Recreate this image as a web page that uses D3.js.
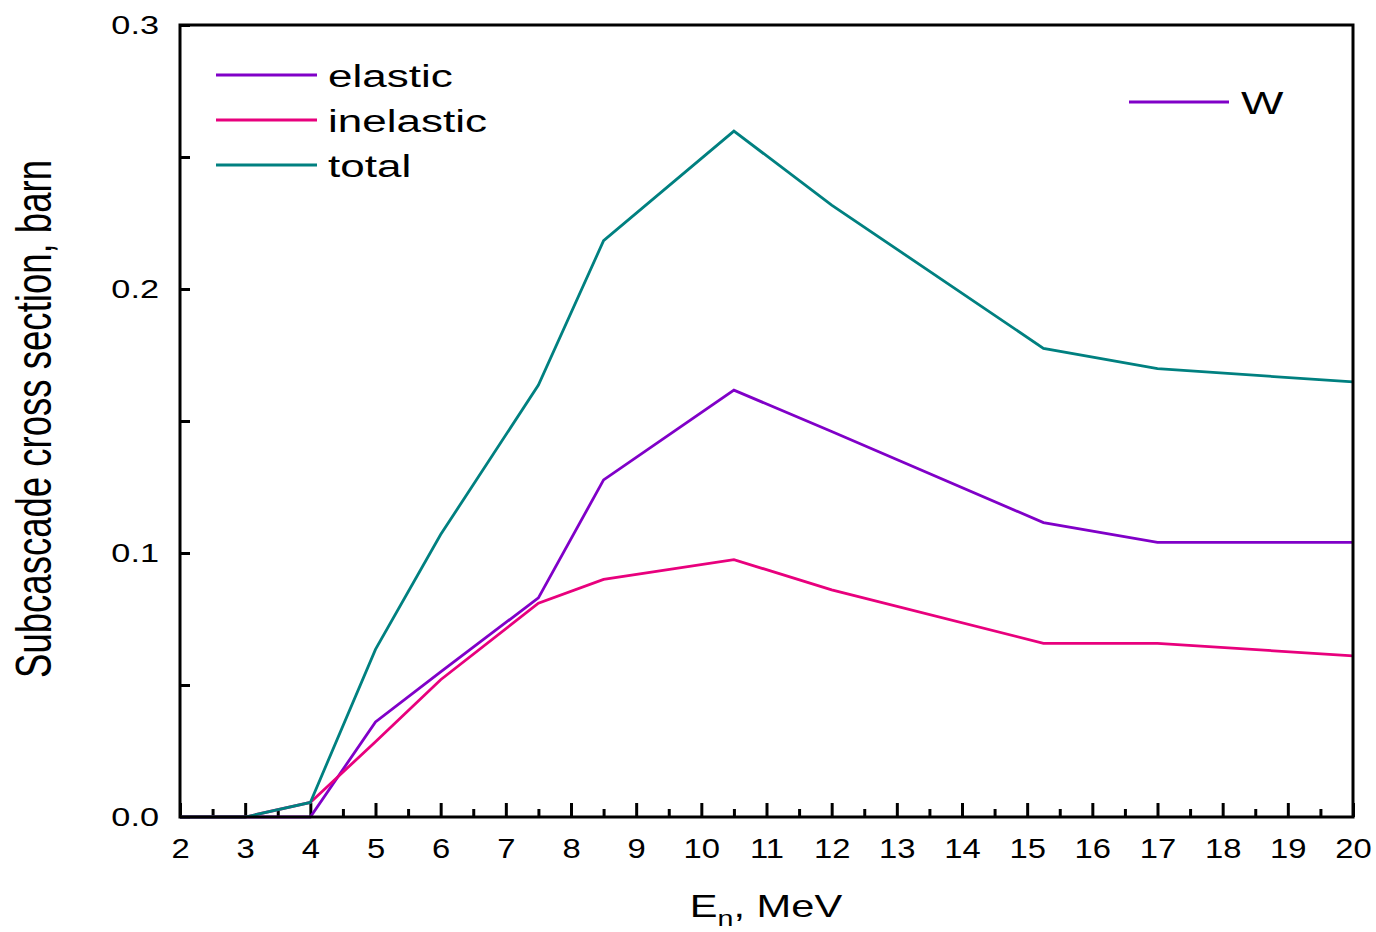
<!DOCTYPE html>
<html>
<head>
<meta charset="utf-8">
<script src="https://cdn.jsdelivr.net/npm/d3@7"></script>
<style>
  html, body { margin: 0; padding: 0; background: #fff; }
  svg { display: block; }
  text { font-family: "Liberation Sans", Arial, sans-serif; fill: #000; }
</style>
</head>
<body>
<svg id="chart" width="1376" height="932"></svg>
<script>
// Neutron energy grid, MeV
const energy = [2, 3, 4, 5, 6, 7.5, 8.5, 10.5, 12, 15.25, 17, 20];
// Subcascade cross sections for W, barn
const elastic   = [0, 0, 0,      0.036,  0.055, 0.083, 0.1277, 0.1617, 0.146, 0.1115, 0.104, 0.104];
const inelastic = [0, 0, 0.0055, 0.0285, 0.052, 0.081, 0.090,  0.0975, 0.086, 0.0658, 0.0658, 0.061];
const total     = [0, 0, 0.0055, 0.0635, 0.107, 0.1636, 0.2183, 0.2598, 0.2318, 0.1775, 0.1698, 0.1648];

const seriesNames  = ["elastic", "inelastic", "total"];
const seriesColors = ["#8000c8", "#e8007d", "#008080"];
const seriesValues = [elastic, inelastic, total];

const xTicks = [2, 3, 4, 5, 6, 7, 8, 9, 10, 11, 12, 13, 14, 15, 16, 17, 18, 19, 20];
const yTicks = [0, 0.1, 0.2, 0.3];

const svg = d3.select("#chart");
const plotLeft = 180, plotRight = 1353, plotTop = 25, plotBottom = 817;

const x = d3.scaleLinear().domain([2, 20]).range([plotLeft, plotRight]);
const y = d3.scaleLinear().domain([0, 0.3]).range([plotBottom, plotTop]);

// Minor ticks (half steps) on x, inward
const xMinor = d3.range(2.5, 20, 1);
svg.append("g")
  .attr("transform", `translate(0,${plotBottom})`)
  .call(d3.axisBottom(x).tickValues(xMinor).tickSize(-8).tickFormat(""))
  .call(g => g.select(".domain").remove())
  .call(g => g.selectAll("line").attr("stroke-width", 3));

// Major x ticks with labels
svg.append("g")
  .attr("transform", `translate(0,${plotBottom})`)
  .call(d3.axisBottom(x).tickValues(xTicks).tickSize(-14).tickFormat(d3.format("d")))
  .call(g => g.select(".domain").remove())
  .call(g => g.selectAll("line").attr("stroke-width", 3))
  .call(g => g.selectAll("text")
    .attr("y", 0).attr("dy", 0)
    .attr("transform", "translate(0,41) scale(1.17,1)")
    .attr("font-size", 28)
    .attr("fill", "#000")
    .attr("text-anchor", "middle"));

// Y ticks (major + minor), inward
const yMinor = [0.05, 0.15, 0.25];
svg.append("g")
  .attr("transform", `translate(${plotLeft},0)`)
  .call(d3.axisLeft(y).tickValues(yMinor).tickSize(-10).tickFormat(""))
  .call(g => g.select(".domain").remove())
  .call(g => g.selectAll("line").attr("stroke-width", 3));

svg.append("g")
  .attr("transform", `translate(${plotLeft},0)`)
  .call(d3.axisLeft(y).tickValues(yTicks).tickSize(-10).tickFormat(d3.format(".1f")))
  .call(g => g.select(".domain").remove())
  .call(g => g.selectAll("line").attr("stroke-width", 3))
  .call(g => g.selectAll("text")
    .attr("x", 0).attr("dy", 0).attr("y", 0)
    .attr("transform", "translate(-21,8) scale(1.32,1)")
    .attr("font-size", 26)
    .attr("fill", "#000")
    .attr("text-anchor", "end"));

// Data lines
const line = d3.line()
  .x((d, i) => x(energy[i]))
  .y(d => y(d));

seriesValues.forEach((vals, k) => {
  svg.append("path")
    .datum(vals)
    .attr("d", line)
    .attr("fill", "none")
    .attr("stroke", seriesColors[k])
    .attr("stroke-width", 2.8)
    .attr("stroke-linejoin", "miter");
});

// Plot frame
svg.append("rect")
  .attr("x", plotLeft).attr("y", plotTop)
  .attr("width", plotRight - plotLeft).attr("height", plotBottom - plotTop)
  .attr("fill", "none").attr("stroke", "#000").attr("stroke-width", 3);

// Legend
const legendY = [75, 120, 165];
seriesNames.forEach((name, k) => {
  svg.append("line")
    .attr("x1", 216).attr("x2", 317)
    .attr("y1", legendY[k]).attr("y2", legendY[k])
    .attr("stroke", seriesColors[k]).attr("stroke-width", 2.8);
  svg.append("text")
    .attr("transform", `translate(328,${legendY[k] + 12}) scale(1.42,1)`)
    .attr("font-size", 31)
    .text(name);
});

// Material label
svg.append("line")
  .attr("x1", 1129).attr("x2", 1229).attr("y1", 102).attr("y2", 102)
  .attr("stroke", seriesColors[0]).attr("stroke-width", 2.8);
svg.append("text")
  .attr("transform", "translate(1241,114) scale(1.45,1)")
  .attr("font-size", 31)
  .text("W");

// Axis titles
const xTitle = svg.append("text")
  .attr("transform", "translate(766,917) scale(1.3,1)")
  .attr("text-anchor", "middle")
  .attr("font-size", 32);
xTitle.append("tspan").text("E");
xTitle.append("tspan").attr("font-size", 22).attr("dy", 9).text("n");
xTitle.append("tspan").attr("dy", -9).text(", MeV");

svg.append("text")
  .attr("transform", "translate(51,419) rotate(-90) scale(1,1.4)")
  .attr("text-anchor", "middle")
  .attr("font-size", 36)
  .attr("textLength", 518)
  .attr("lengthAdjust", "spacingAndGlyphs")
  .text("Subcascade cross section, barn");
</script>
</body>
</html>
